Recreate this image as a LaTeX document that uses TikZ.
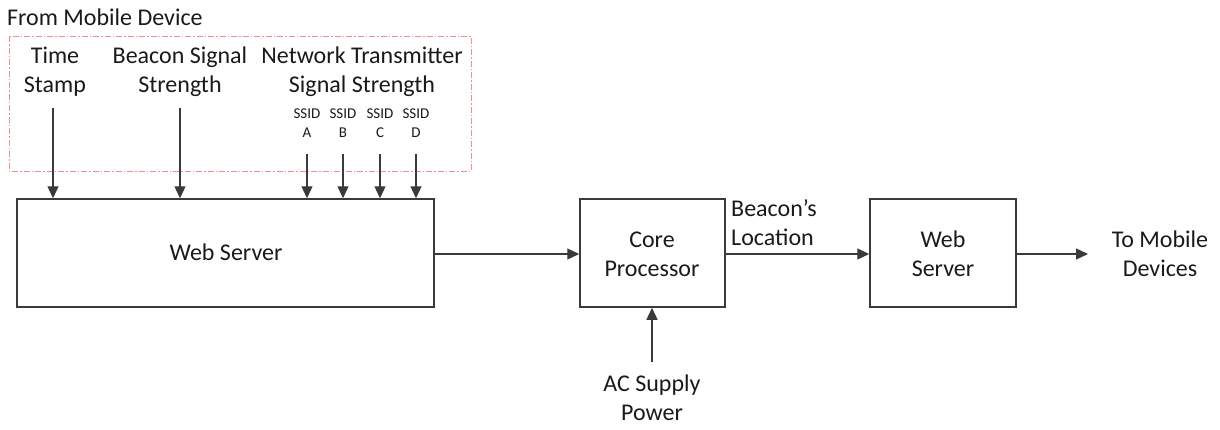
\documentclass[tikz,border=0pt]{standalone}
\usepackage{fontspec}
\setmainfont{Carlito}
\usetikzlibrary{arrows.meta}
\definecolor{boxline}{HTML}{3A3A3A}
\definecolor{txt}{HTML}{1A1A1A}
\definecolor{pinkdash}{HTML}{EE8E8E}
\tikzset{
  blk/.style={draw=boxline, line width=1.5pt, rectangle, inner sep=0pt},
  lbl/.style={text=txt, align=center, inner sep=0pt, font=\fontsize{24}{29}\selectfont},
  small/.style={text=txt, align=center, inner sep=0pt, font=\fontsize{15}{19}\selectfont},
  flow/.style={draw=boxline, line width=1.3pt, -{Triangle[length=12pt,width=11pt]}},
}
\begin{document}
\begin{tikzpicture}[x=1pt,y=-1pt]
\useasboundingbox (0,0) rectangle (1220,429);
% dashed group frame
\draw[pinkdash, line width=0.9pt, dash pattern=on 6pt off 2pt on 1.5pt off 2pt] (9,36) rectangle (471,171);
\node[lbl, anchor=west] (from) at (7,17) {From Mobile Device};
% boxes
\node[blk, minimum width=417pt, minimum height=108pt] (ws1) at (225.5,253) {};
\node[lbl] (ws1t) at (226,252) {Web Server};
\node[blk, minimum width=145pt, minimum height=108pt] (cp) at (652.5,253) {};
\node[lbl] (cpt) at (652,254) {Core\\Processor};
\node[blk, minimum width=146pt, minimum height=108pt] (ws2) at (943,253) {};
\node[lbl] (ws2t) at (943,254) {Web\\Server};
% input labels
\node[lbl] (ts) at (55,71.5) {Time\\Stamp};
\node[lbl] (bss) at (180,71.5) {Beacon Signal\\Strength};
\node[lbl] (nts) at (362,71.5) {Network Transmitter\\Signal Strength};
\node[small] (sa) at (307,123.5) {SSID\\A};
\node[small] (sb) at (343,123.5) {SSID\\B};
\node[small] (sc) at (380,123.5) {SSID\\C};
\node[small] (sd) at (416,123.5) {SSID\\D};
% output labels
\node[lbl, anchor=west, align=left] (loc) at (731,223) {Beacon’s\\Location};
\node[lbl] (tmd) at (1160,254) {To Mobile\\Devices};
\node[lbl] (ac) at (652,398) {AC Supply\\Power};
% arrow start coordinates
\coordinate (tsA) at (53,108);
\coordinate (bssA) at (180,108);
\coordinate (saA) at (307,154);
\coordinate (sbA) at (343,154);
\coordinate (scA) at (380,154);
\coordinate (sdA) at (416,154);
\coordinate (acA) at (652,362);
\coordinate (outE) at (1088,254);
% arrows
\draw[flow] (tsA) -- (tsA |- ws1.north);
\draw[flow] (bssA) -- (bssA |- ws1.north);
\draw[flow] (saA) -- (saA |- ws1.north);
\draw[flow] (sbA) -- (sbA |- ws1.north);
\draw[flow] (scA) -- (scA |- ws1.north);
\draw[flow] (sdA) -- (sdA |- ws1.north);
\draw[flow] (ws1.east |- outE) -- (cp.west |- outE);
\draw[flow] (cp.east |- outE) -- (ws2.west |- outE);
\draw[flow] (ws2.east |- outE) -- (outE);
\draw[flow] (acA) -- (acA |- cp.south);
\end{tikzpicture}
\end{document}
